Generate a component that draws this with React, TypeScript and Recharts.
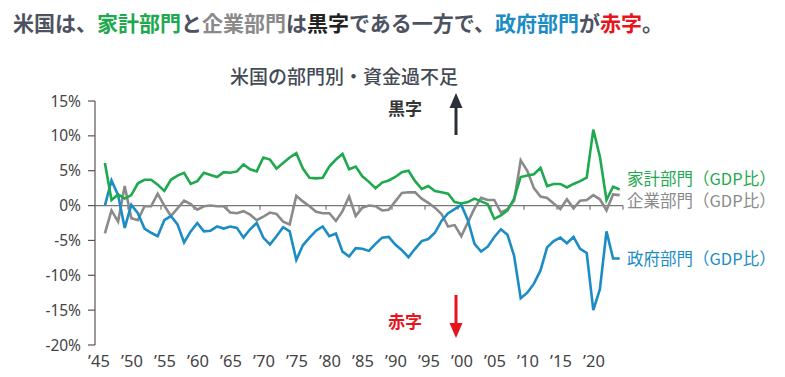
import React from "react";
import { LineChart, Line, XAxis, YAxis, ReferenceLine } from "recharts";

// annual data, 1946 - 2024, % of GDP
const startYear = 1946;

const household = [
  6.1, 0.8, 1.6, 1.0, 1.5, 3.2, 3.7, 3.7, 3.0, 2.1,
  3.7, 4.3, 4.7, 3.1, 3.5, 4.7, 4.4, 4.1, 4.8, 4.7,
  4.9, 5.9, 5.2, 4.9, 6.9, 6.6, 5.3, 6.1, 6.9, 7.5,
  5.3, 4.0, 3.9, 4.0, 5.6, 6.6, 7.4, 5.2, 5.6, 4.2,
  3.4, 2.5, 3.3, 3.6, 4.1, 4.8, 5.0, 3.5, 2.4, 2.8,
  2.1, 1.9, 1.7, 0.5, 0.3, 0.5, 1.0, 0.6, 0.2, -1.9,
  -1.4, -0.7, 1.0, 4.1, 4.3, 4.5, 5.4, 2.8, 3.1, 3.1,
  2.6, 3.1, 3.5, 4.0, 10.9, 7.0, 0.8, 2.7, 2.3,
];

const corporate = [
  -4.0, -0.7, -2.3, 2.8, -1.8, -2.1, -0.1, -0.1, 1.7, 0.0,
  -1.5, -0.4, 0.7, 0.2, -0.6, -0.1, 0.0, -0.1, -0.1, -1.0,
  -1.1, -0.8, -1.3, -2.1, -1.6, -1.0, -1.2, -2.3, -2.7, 1.4,
  0.6, -0.1, -0.9, -1.1, -1.1, -2.2, -0.8, 1.3, -1.5, -0.3,
  0.0, -0.1, -0.7, -0.6, 0.6, 1.8, 1.9, 1.9, 1.0, 0.4,
  -0.3, -1.2, -3.0, -2.8, -4.4, -2.4, -0.4, 1.1, 0.8, 0.8,
  -1.0, -0.5, 0.7, 6.5, 5.0, 2.5, 1.3, 1.1, 0.3, -0.5,
  0.9, -0.4, 0.7, 0.8, 1.5, 0.9, -0.7, 1.6, 1.5,
];

const government = [
  0.0, 3.6, 1.5, -3.2, 0.1, -1.1, -3.3, -3.9, -4.4, -2.1,
  -1.5, -2.7, -5.3, -3.7, -2.5, -3.7, -3.6, -3.0, -3.3, -3.0,
  -3.2, -4.6, -3.4, -2.5, -4.6, -5.6, -4.4, -3.1, -3.7, -7.8,
  -5.7, -4.6, -3.6, -3.0, -4.4, -4.0, -6.6, -7.3, -6.1, -6.2,
  -6.5, -5.5, -4.6, -4.5, -5.6, -6.4, -7.4, -6.2, -5.1, -4.8,
  -3.9, -2.2, -1.1, -0.5, 0.1, -2.1, -5.5, -6.6, -5.9, -4.5,
  -3.4, -4.2, -7.2, -13.3, -12.5, -11.2, -9.3, -6.0, -5.1, -4.6,
  -5.4, -4.5, -6.2, -6.8, -15.0, -12.0, -3.7, -7.6, -7.6,
];

const tickYears = [1945, 1950, 1955, 1960, 1965, 1970, 1975, 1980, 1985, 1990, 1995, 2000, 2005, 2010, 2015, 2020];
const zeroTickYears = [1950, 1955, 1960, 1965, 1970, 1975, 1980, 1985, 1990, 1995, 2000, 2005, 2010, 2015, 2020, 2025];
const yTicks = [-20, -15, -10, -5, 0, 5, 10, 15];

const GREEN = "#1ea94f";
const GRAY = "#8a8a8a";
const BLUE = "#1b8cc4";
const RED = "#e8141b";

// each annual value sits in the middle of its year
const chartData = household.map((v, i) => ({
  x: startYear + i + 0.5,
  household: v,
  corporate: corporate[i],
  government: government[i],
}));

const FONT = '"Noto Sans CJK JP", "Noto Sans", sans-serif';
const TICK_FONT = '"Noto Sans", sans-serif';

const App = () => {
  return (
    <div
      style={{
        position: "absolute",
        left: 0,
        top: 0,
        width: 785,
        height: 377,
        background: "#fff",
        fontFamily: FONT,
        overflow: "hidden",
      }}
    >
      <div
        style={{
          position: "absolute",
          left: 13,
          top: 11,
          fontSize: 21,
          lineHeight: "23px",
          fontWeight: 700,
          color: "#4d5260",
          whiteSpace: "nowrap",
        }}
      >
        米国は、<span style={{ color: GREEN }}>家計部門</span>と
        <span style={{ color: GRAY }}>企業部門</span>は
        <span style={{ color: "#222" }}>黒字</span>である一方で、
        <span style={{ color: BLUE }}>政府部門</span>が
        <span style={{ color: RED }}>赤字</span>。
      </div>

      <div
        style={{
          position: "absolute",
          left: 230,
          top: 65,
          fontSize: 19,
          lineHeight: "21px",
          fontWeight: 500,
          color: "#454a55",
          whiteSpace: "nowrap",
        }}
      >
        米国の部門別・資金過不足
      </div>

      <LineChart
        width={785}
        height={377}
        data={chartData}
        margin={{ top: 101, right: 162, bottom: 12, left: 0 }}
        style={{ position: "absolute", left: 0, top: 0 }}
      >
        <XAxis
          type="number"
          dataKey="x"
          domain={[1945, 2025]}
          ticks={tickYears}
          tickFormatter={(y: number) => `’${String(y).slice(2)}`}
          axisLine={false}
          tickLine={false}
          height={20}
          tickMargin={4}
          tick={{ fill: "#444", fontSize: 16.5, fontFamily: TICK_FONT, dx: 4 }}
        />
        <YAxis
          width={95}
          domain={[-20, 15]}
          ticks={yTicks}
          tickFormatter={(v: number) => `${v}%`}
          axisLine={{ stroke: "#555", strokeWidth: 1.2 }}
          tickLine={{ stroke: "#555", strokeWidth: 1.2 }}
          tickSize={7}
          tickMargin={7}
          tick={{ fill: "#444", fontSize: 15.5, fontFamily: TICK_FONT }}
        />
        <ReferenceLine y={0} stroke="#777" strokeWidth={1.2} />
        {zeroTickYears.map((t) => (
          <ReferenceLine
            key={t}
            segment={[
              { x: t, y: 0 },
              { x: t, y: -0.6 },
            ]}
            stroke="#777"
            strokeWidth={1.2}
          />
        ))}
        <Line
          type="linear"
          dataKey="corporate"
          stroke={GRAY}
          strokeWidth={2.6}
          dot={false}
          isAnimationActive={false}
        />
        <Line
          type="linear"
          dataKey="government"
          stroke={BLUE}
          strokeWidth={2.6}
          dot={false}
          isAnimationActive={false}
        />
        <Line
          type="linear"
          dataKey="household"
          stroke={GREEN}
          strokeWidth={2.6}
          dot={false}
          isAnimationActive={false}
        />
      </LineChart>

      {/* surplus / deficit markers */}
      <div
        style={{
          position: "absolute",
          left: 388,
          top: 98,
          fontSize: 17,
          lineHeight: "19px",
          fontWeight: 700,
          color: "#333",
        }}
      >
        黒字
      </div>
      <div
        style={{
          position: "absolute",
          left: 388,
          top: 311,
          fontSize: 17,
          lineHeight: "19px",
          fontWeight: 700,
          color: RED,
        }}
      >
        赤字
      </div>
      <svg
        width={785}
        height={377}
        style={{ position: "absolute", left: 0, top: 0, pointerEvents: "none" }}
      >
        <line x1={456} y1={135} x2={456} y2={106} stroke="#2b2f38" strokeWidth={3} />
        <polygon points="449.5,108 462.5,108 456,93" fill="#2b2f38" />
        <line x1={456} y1={295} x2={456} y2={325} stroke={RED} strokeWidth={3} />
        <polygon points="449.5,323 462.5,323 456,338" fill={RED} />
      </svg>

      {/* series labels */}
      <div
        style={{
          position: "absolute",
          left: 627,
          top: 169,
          fontSize: 16.5,
          lineHeight: "18px",
          color: GREEN,
          whiteSpace: "nowrap",
        }}
      >
        家計部門（GDP比）
      </div>
      <div
        style={{
          position: "absolute",
          left: 627,
          top: 191,
          fontSize: 16.5,
          lineHeight: "18px",
          color: GRAY,
          whiteSpace: "nowrap",
        }}
      >
        企業部門（GDP比）
      </div>
      <div
        style={{
          position: "absolute",
          left: 627,
          top: 249,
          fontSize: 16.5,
          lineHeight: "18px",
          color: BLUE,
          whiteSpace: "nowrap",
        }}
      >
        政府部門（GDP比）
      </div>
    </div>
  );
};

export default App;
